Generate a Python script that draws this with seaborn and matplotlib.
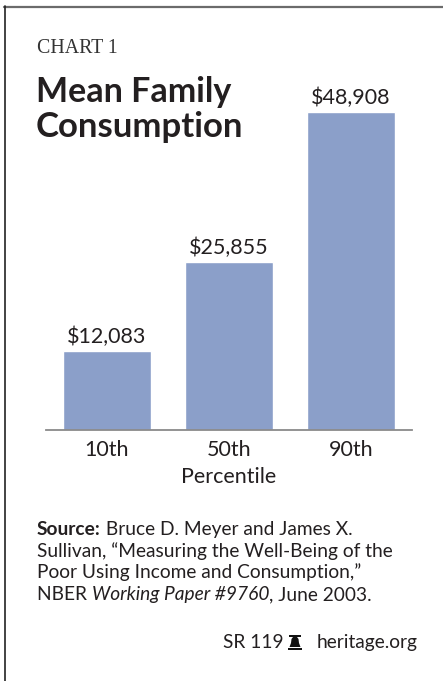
import matplotlib
matplotlib.use("Agg")
import matplotlib.pyplot as plt
import seaborn as sns
import pandas as pd
from matplotlib.patches import Polygon, Rectangle
from matplotlib.lines import Line2D

categories = ["10th", "50th", "90th"]
values = [12083, 25855, 48908]
value_labels = ["$12,083", "$25,855", "$48,908"]

sns.set_theme(style="white")
plt.rcParams["font.family"] = ["Lato", "DejaVu Sans"]

TXT = "#231F20"
BAR = "#8B9FC9"

fig = plt.figure(figsize=(4.43, 6.81), dpi=100)
W, H = 443, 681

def fx(px):
    return px / W

def fy(py):
    return 1 - py / H

# frame lines
fig.add_artist(Line2D([fx(4), 1], [fy(6.5), fy(6.5)], color="#6b6b6b", lw=1.6))
fig.add_artist(Line2D([fx(4.5), fx(4.5)], [fy(6), 0], color="#222222", lw=1.2))

ax = fig.add_axes([fx(46), fy(430), fx(412) - fx(46), fy(80) - fy(430)])
df = pd.DataFrame({"pct": categories, "val": values})
sns.barplot(data=df, x="pct", y="val", color=BAR, width=0.72, saturation=1, ax=ax)
ax.set_xlim(-0.5, 2.5)
ax.set_ylim(0, 48908 * 350 / 318)
for s in ["top", "right", "left"]:
    ax.spines[s].set_visible(False)
ax.spines["bottom"].set_color("#8a8a8a")
ax.spines["bottom"].set_linewidth(1.3)
ax.set_yticks([])
ax.set_ylabel("")
ax.tick_params(axis="x", length=0, pad=7, labelsize=15.5, labelcolor=TXT)
ax.set_xlabel("Percentile", fontsize=15.5, color=TXT, labelpad=5.5)
ax.bar_label(ax.containers[0], labels=value_labels, padding=3, fontsize=15.5, color=TXT)

# header
fig.text(fx(37), fy(53), "CHART 1", family=["Liberation Serif"], fontsize=14.3,
         color="#333333", va="baseline", ha="left")
fig.text(fx(36), fy(102), "Mean Family", fontsize=24.5, fontweight="bold", color=TXT,
         va="baseline", ha="left")
fig.text(fx(36), fy(137), "Consumption", fontsize=25, fontweight="bold", color=TXT,
         va="baseline", ha="left")

# source text
fs = 13.8
lines_y = [535, 557, 578, 600]
t = fig.text(fx(37), fy(lines_y[0]), "Source:", fontsize=fs, fontweight="bold", color=TXT,
             va="baseline", ha="left")
plt.annotate(" Bruce D. Meyer and James X.", xy=(1, 0), xycoords=t, va="bottom", ha="left",
             fontsize=fs, color=TXT, annotation_clip=False)
fig.text(fx(37), fy(lines_y[1]), "Sullivan, \u201cMeasuring the Well-Being of the",
         fontsize=fs, color=TXT, va="baseline", ha="left")
fig.text(fx(37), fy(lines_y[2]), "Poor Using Income and Consumption,\u201d",
         fontsize=fs, color=TXT, va="baseline", ha="left")
t1 = fig.text(fx(37), fy(lines_y[3]), "NBER ", fontsize=fs, color=TXT, va="baseline", ha="left")
t2 = plt.annotate("Working Paper #9760", xy=(1, 0), xycoords=t1, va="bottom", ha="left",
                  fontsize=fs, color=TXT, fontstyle="italic", annotation_clip=False)
plt.annotate(", June 2003.", xy=(1, 0), xycoords=t2, va="bottom", ha="left",
             fontsize=fs, color=TXT, annotation_clip=False)

# footer
fig.text(fx(418), fy(648), "heritage.org", fontsize=13.8, color=TXT, va="baseline", ha="right")
fig.text(fx(223), fy(648), "SR 119", fontsize=13.8, color=TXT, va="baseline", ha="left")
# bell icon
bx, by = 288, 636
bell_pts = [(bx + 5, by + 1), (bx + 9, by + 1), (bx + 10.5, by + 3), (bx + 11, by + 7),
            (bx + 12.5, by + 11), (bx + 1.5, by + 11), (bx + 3, by + 7), (bx + 3.5, by + 3)]
fig.add_artist(Polygon([[fx(x), fy(y)] for x, y in bell_pts], closed=True,
                       transform=fig.transFigure, color="#111111", lw=0))
fig.add_artist(Rectangle((fx(bx), fy(by + 14)), fx(14), 2 / H, transform=fig.transFigure,
                         color="#111111", lw=0))
fig.add_artist(Rectangle((fx(bx + 1), fy(by + 1)), fx(12), 1.6 / H, transform=fig.transFigure,
                         color="#111111", lw=0))

fig.savefig("out.png", dpi=100)
